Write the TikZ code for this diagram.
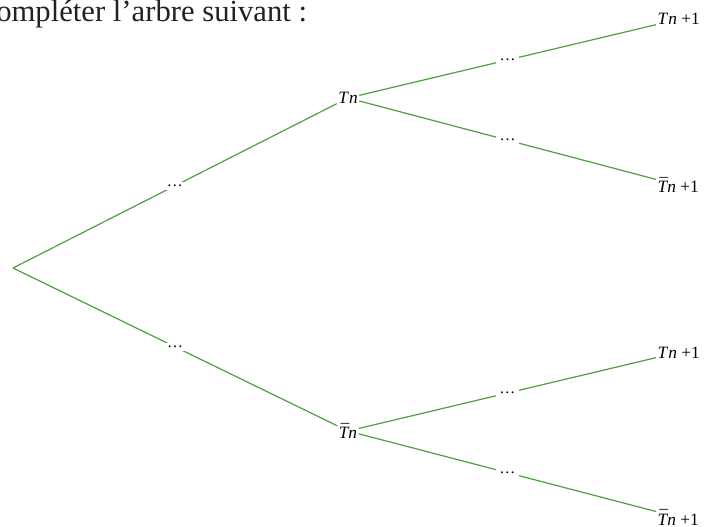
\documentclass[tikz,border=0pt]{standalone}
\usepackage{fontspec}
\setmainfont{Liberation Serif}
\usetikzlibrary{positioning}
\definecolor{treegreen}{HTML}{4CA13E}
\definecolor{inkgray}{HTML}{1E2328}
\newcommand{\evT}{\textit{T}}
\newcommand{\evTbar}{\textit{T\llap{\raisebox{0.14em}{\char"00AF}\kern0.02em}}}
\tikzset{
  branch/.style={
    draw=treegreen,
    line width=0.9pt
  },
  probdots/.style={
    fill=white,
    inner sep=2.5pt,
    font=\fontsize{12}{14}\selectfont
  },
  event/.style={
    inner sep=1pt,
    font=\fontsize{13}{15}\selectfont
  },
  leaf/.style={
    event,
    anchor=base west
  },
  consigne/.style={
    anchor=base west,
    inner sep=0pt,
    text=inkgray,
    font=\fontsize{23}{26}\selectfont
  }
}

\begin{document}
\begin{tikzpicture}[x=0.75pt,y=-0.75pt]
\useasboundingbox (0,0) rectangle (709,527);
\node[consigne] (titre) at (-4,22) {ompléter l'arbre suivant :};
% tree
\coordinate (root) at (13,268);
\node[event] (tn) at (348,98) {\evT\textit{n}};
\node[event] (tnbar) at (348,431) {\evTbar\textit{n}};
\node[leaf] (tn1a) at (656,25) {\evT\textit{n} +1};
\node[leaf] (tnbar1a) at (656,193) {\evTbar\textit{n} +1};
\node[leaf] (tn1b) at (656,358) {\evT\textit{n} +1};
\node[leaf] (tnbar1b) at (656,525) {\evTbar\textit{n} +1};
\draw[branch] (root) -- node[probdots] {\ldots} (tn);
\draw[branch] (root) -- node[probdots] {\ldots} (tnbar);
\draw[branch] (tn) -- node[probdots] {\ldots} (tn1a);
\draw[branch] (tn) -- node[probdots] {\ldots} (tnbar1a);
\draw[branch] (tnbar) -- node[probdots] {\ldots} (tn1b);
\draw[branch] (tnbar) -- node[probdots] {\ldots} (tnbar1b);
\end{tikzpicture}
\end{document}
